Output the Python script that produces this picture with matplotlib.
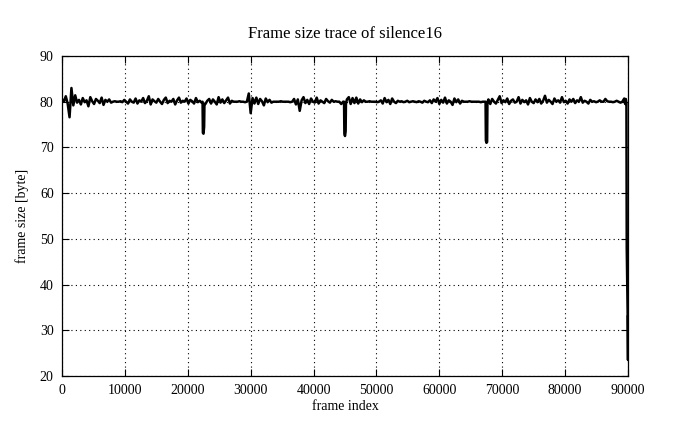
import numpy as np
import matplotlib.pyplot as plt

sizes = [
    80.6, 80.0, 81.2, 79.6, 76.6, 83.0, 79.2, 81.4, 79.8, 80.4,
    79.4, 80.8, 79.9, 80.3, 79.0, 81.0, 80.1, 79.5, 80.6, 80.2,
    79.7, 80.9, 79.3, 80.4, 80.0, 80.5, 79.8, 80.0, 80.1, 80.0,
    80.0, 80.1, 79.9, 80.4, 80.0, 79.6, 80.5, 80.0, 79.8, 80.7,
    79.6, 80.3, 80.0, 80.8, 79.7, 80.2, 81.2, 79.4, 80.5, 80.1,
    79.8, 80.6, 80.0, 79.5, 80.4, 80.9, 79.7, 80.2, 80.0, 80.6,
    79.4, 80.3, 80.9, 79.8, 80.2, 80.0, 80.7, 79.6, 80.4, 80.1,
    79.6, 80.8, 79.9, 80.2, 79.8, 73.0, 79.5, 80.2, 80.6, 79.6,
    80.5, 80.0, 79.4, 81.0, 79.8, 80.5, 79.7, 80.3, 80.9, 79.6,
    80.2, 80.0, 80.0, 80.0, 80.1, 80.0, 80.0, 79.9, 80.0, 81.8,
    77.5, 80.8, 79.6, 80.9, 79.5, 80.6, 80.1, 79.2, 80.7, 79.9,
    80.4, 79.8, 80.0, 80.0, 80.0, 80.0, 80.1, 80.0, 80.0, 80.0,
    80.0, 79.9, 80.0, 80.6, 79.4, 80.5, 78.0, 80.3, 81.0, 79.7,
    80.4, 79.5, 80.7, 80.0, 79.8, 80.9, 79.6, 80.3, 80.0, 79.7,
    80.6, 80.1, 79.8, 80.4, 80.0, 80.1, 80.0, 80.0, 79.5, 80.0,
    72.5, 80.5, 81.0, 79.5, 80.8, 79.7, 80.9, 79.6, 80.5, 79.9,
    80.3, 80.0, 80.0, 80.1, 80.0, 80.0, 80.0, 79.9, 80.0, 80.3,
    79.6, 80.8, 79.9, 80.4, 79.5, 80.7, 80.0, 79.7, 80.2, 80.0,
    80.1, 79.9, 80.0, 80.2, 79.9, 80.0, 80.1, 80.0, 79.9, 80.1,
    80.0, 79.8, 80.2, 80.0, 79.9, 80.3, 79.7, 80.5, 80.0, 80.8,
    79.5, 80.4, 79.8, 80.9, 79.6, 80.3, 80.0, 79.3, 80.7, 79.9,
    80.5, 79.6, 80.2, 80.0, 80.0, 80.0, 80.1, 80.0, 80.0, 80.0,
    80.0, 80.0, 79.9, 80.0, 80.0, 71.0, 80.5, 79.5, 80.6, 80.0,
    79.6, 80.4, 81.2, 79.7, 80.3, 79.9, 80.7, 79.5, 80.2, 80.5,
    79.8, 80.0, 81.0, 79.6, 80.4, 79.9, 80.3, 79.4, 80.8, 80.0,
    79.7, 80.5, 79.9, 80.6, 79.6, 80.2, 81.3, 79.8, 80.4, 80.0,
    79.5, 80.7, 80.0, 80.3, 79.8, 81.0, 79.9, 80.2, 79.6, 80.5,
    80.0, 80.6, 79.7, 80.3, 80.0, 81.0, 79.8, 80.2, 80.0, 79.6,
    80.4, 80.0, 80.1, 79.9, 80.0, 80.3, 80.0, 80.0, 80.6, 80.1,
    80.0, 80.0, 79.9, 80.0, 80.2, 80.0, 79.8, 80.0, 80.7,
]
frames = list(range(0, 300 * len(sizes), 300))

# extra points inside the three narrow dips
dip_frames = [22350, 22400, 22600, 22650,
              44850, 44900, 45100, 45150,
              67350, 67400, 67600, 67650]
dip_sizes = [80.0, 73.2, 74.5, 79.5,
             80.0, 73.0, 73.5, 79.5,
             80.0, 71.5, 71.2, 79.8]

# the last few frames, where the size drops off
tail_frames = [89550, 89650, 89750, 89800, 89950, 90000, 90000]
tail_sizes = [79.5, 80.6, 79.6, 48.0, 33.0, 23.5, 33.0]

x = np.array(frames + dip_frames + tail_frames)
y = np.array(sizes + dip_sizes + tail_sizes)
order = np.argsort(x, kind='stable')
x, y = x[order], y[order]

plt.rcParams['font.family'] = ['Liberation Serif', 'DejaVu Serif']
plt.rcParams['font.size'] = 10

fig = plt.figure(figsize=(6.95, 4.29), dpi=100)
ax = fig.add_axes([62 / 695, 1 - 376 / 429, 566 / 695, 320 / 429])

ax.plot(x, y, color='black', lw=1.8)

ax.set_xlim(0, 90000)
ax.set_ylim(20, 90)
ax.set_xticks(range(0, 90001, 10000))
ax.set_yticks(range(20, 91, 10))
ax.tick_params(direction='in', length=5, width=0.8, top=True, right=True, pad=6)
ax.grid(True, color='black', linestyle=(0, (1, 3)), linewidth=0.8)
for s in ax.spines.values():
    s.set_linewidth(0.9)

ax.set_title("Frame size trace of silence16", pad=13)
ax.set_xlabel("frame index", labelpad=2)
ax.set_ylabel("frame size [byte]", labelpad=8)

fig.savefig("out.png", dpi=100)
